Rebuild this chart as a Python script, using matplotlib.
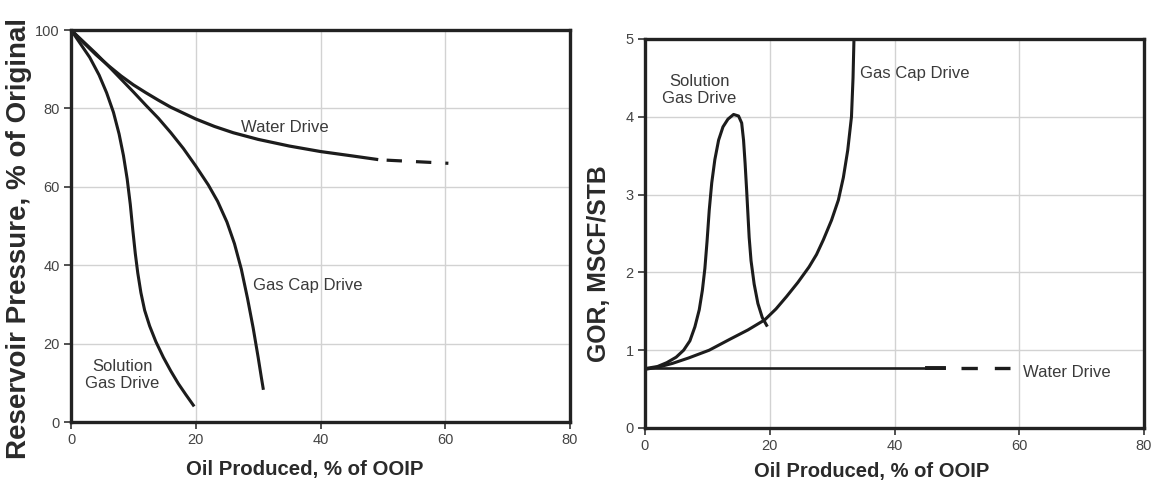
import numpy as np
import matplotlib
matplotlib.use("Agg")
import matplotlib.pyplot as plt

plt.rcParams['font.family'] = ['Liberation Sans', 'DejaVu Sans']

# ---- left panel: reservoir pressure vs oil produced ----
water_x = [0, 2, 4, 6, 8, 10, 12, 14, 16, 18, 20, 23, 26, 30, 35, 40, 45, 49]
water_y = [100, 96.8, 93.7, 90.9, 88.3, 86, 84, 82.1, 80.3, 78.8, 77.3, 75.4, 73.8, 72.1,
           70.4, 69.0, 67.9, 67.0]
water_ext_x = [50.6, 60.5]
water_ext_y = [66.8, 66.0]

gascap_x = [0, 2, 4, 6, 8, 10, 12, 14, 16, 18, 20, 22, 23.5, 25, 26.2, 27.3, 28.3, 29.2,
            30, 30.5, 30.8]
gascap_y = [100, 97, 94, 90.8, 87.5, 84.2, 80.8, 77.5, 73.8, 69.8, 65.3, 60.5, 56.3, 51,
            45.5, 39, 31.5, 24, 16.5, 11.5, 8.6]

solgas_x = [0, 1.5, 3, 4.5, 5.7, 6.8, 7.7, 8.4, 9.0, 9.5, 9.9, 10.3, 10.7, 11.2, 11.8,
            12.6, 13.6, 14.8, 16, 17.2, 18.4, 19.6]
solgas_y = [100, 96.5, 93, 88.5, 84, 79, 73.5, 68, 62, 55.5, 49, 43, 38, 33, 28.5,
            24.5, 20.5, 16.5, 13, 9.8, 7, 4.3]

# ---- right panel: GOR vs oil produced ----
gor_sol_x = [0.5, 2, 3.5, 5, 6.2, 7.2, 8, 8.7, 9.2, 9.6, 9.95, 10.3, 10.7, 11.2, 11.8,
             12.5, 13.3, 14.2, 15, 15.5, 15.8, 16.05, 16.3, 16.5, 16.7, 17.0, 17.5, 18.1,
             18.8, 19.5]
gor_sol_y = [0.77, 0.79, 0.84, 0.91, 1.0, 1.12, 1.3, 1.52, 1.77, 2.05, 2.4, 2.8, 3.15,
             3.45, 3.7, 3.87, 3.97, 4.03, 4.01, 3.92, 3.7, 3.4, 3.05, 2.75, 2.45, 2.15,
             1.85, 1.6, 1.42, 1.32]

gor_cap_x = [0.5, 2.5, 4.4, 7, 10.3, 13.6, 16.5, 19.2, 21, 22.7, 24.5, 26.3, 27.5, 28.6,
             29.9, 31.0, 31.8, 32.5, 33.1, 33.35, 33.5]
gor_cap_y = [0.76, 0.79, 0.83, 0.9, 1.0, 1.14, 1.26, 1.39, 1.53, 1.69, 1.87, 2.07, 2.23,
             2.42, 2.67, 2.93, 3.22, 3.57, 4.0, 4.5, 5.0]

gor_water_x = [0, 47.9]
gor_water_y = [0.77, 0.77]
gor_water_ext_x = [50.6, 58.5]
gor_water_ext_y = [0.77, 0.77]

xticks = [0, 20, 40, 60, 80]
line_c = '#1c1c1c'
text_c = '#3a3a3a'

fig = plt.figure(figsize=(11.59, 4.88), dpi=100)
ax1 = fig.add_axes([0.0613, 0.1352, 0.4305, 0.8033])
ax2 = fig.add_axes([0.5565, 0.1230, 0.4306, 0.7971])


def style(ax, ymax, yticks):
    ax.set_xlim(0, 80)
    ax.set_ylim(0, ymax)
    ax.set_xticks(xticks)
    ax.set_yticks(yticks)
    ax.set_axisbelow(True)
    ax.grid(color='#d2d2d2', lw=1.0)
    for s in ax.spines.values():
        s.set_linewidth(2.4)
        s.set_color('#222222')
        s.set_zorder(5)
    ax.tick_params(direction='out', length=5, width=1.2, color='#333333',
                   labelsize=10.5, labelcolor='#444444', pad=3)


style(ax1, 100, [0, 20, 40, 60, 80, 100])
style(ax2, 5, [0, 1, 2, 3, 4, 5])

# left curves
ax1.plot(water_x, water_y, color=line_c, lw=2.3)
ax1.plot(water_ext_x, water_ext_y, color=line_c, lw=2.3, linestyle=(0, (4.8, 4.4)))
ax1.plot(gascap_x, gascap_y, color=line_c, lw=2.2)
ax1.plot(solgas_x, solgas_y, color=line_c, lw=2.2)

ax1.text(34.3, 75.1, 'Water Drive', fontsize=12, color=text_c, ha='center', va='center')
ax1.text(37.9, 34.7, 'Gas Cap Drive', fontsize=12, color=text_c, ha='center', va='center')
ax1.text(8.2, 12.0, 'Solution\nGas Drive', fontsize=12, color=text_c, ha='center', va='center',
         linespacing=1.15)

# right curves
ax2.plot(gor_sol_x, gor_sol_y, color=line_c, lw=2.2)
ax2.plot(gor_cap_x, gor_cap_y, color=line_c, lw=2.2)
ax2.plot(gor_water_x, gor_water_y, color=line_c, lw=1.9)
ax2.plot([45.2, 47.9], [0.77, 0.77], color=line_c, lw=2.8)
ax2.plot(gor_water_ext_x, gor_water_ext_y, color=line_c, lw=2.4, linestyle=(0, (4.9, 5.1)))

ax2.text(8.7, 4.34, 'Solution\nGas Drive', fontsize=12, color=text_c, ha='center', va='center',
         linespacing=1.15)
ax2.text(34.5, 4.55, 'Gas Cap Drive', fontsize=12, color=text_c, ha='left', va='center')
ax2.text(60.6, 0.713, 'Water Drive', fontsize=12, color=text_c, ha='left', va='center')

# axis labels
ax1.set_xlabel('Oil Produced, % of OOIP', fontsize=14.7, fontweight='bold', color='#2a2a2a')
ax1.xaxis.set_label_coords(0.469, -0.122)
ax1.xaxis.label.set_va('center')
ax1.set_ylabel('Reservoir Pressure, % of Original', fontsize=20, fontweight='bold', color='#2a2a2a')
ax1.yaxis.set_label_coords(-0.104, 0.467)
ax1.yaxis.label.set_va('center')

ax2.set_xlabel('Oil Produced, % of OOIP', fontsize=14.5, fontweight='bold', color='#2a2a2a')
ax2.xaxis.set_label_coords(0.454, -0.111)
ax2.xaxis.label.set_va('center')
ax2.set_ylabel('GOR, MSCF/STB', fontsize=17.8, fontweight='bold', color='#2a2a2a')
ax2.yaxis.set_label_coords(-0.092, 0.423)
ax2.yaxis.label.set_va('center')

fig.savefig('out.png', dpi=100, facecolor='white')
